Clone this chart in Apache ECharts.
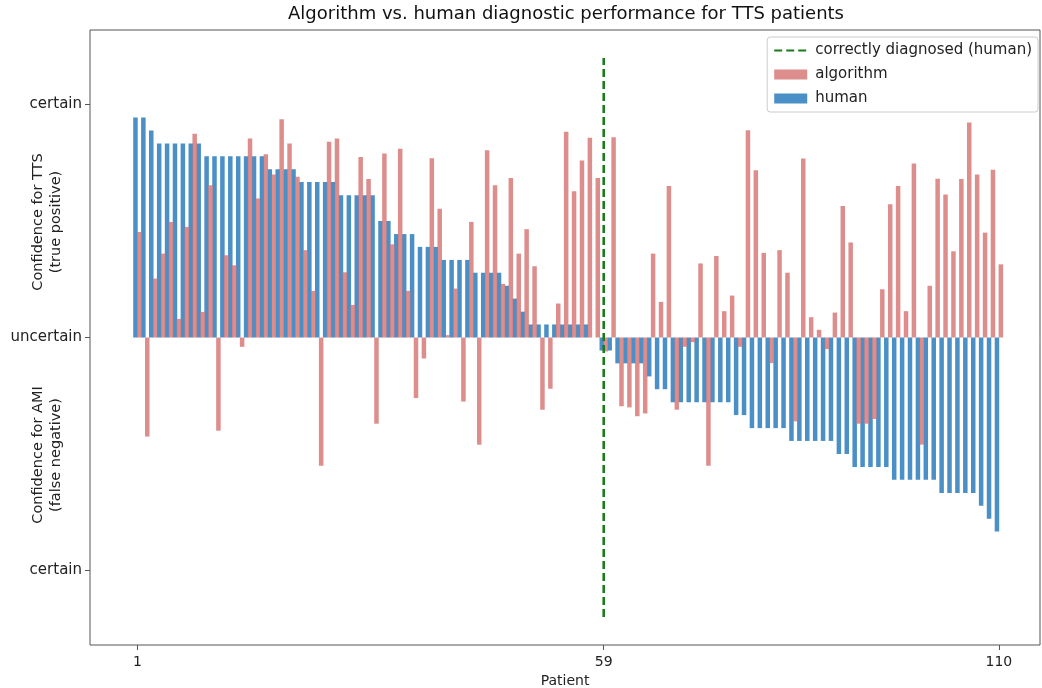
<!DOCTYPE html>
<html>
<head>
<meta charset="UTF-8">
<title>Algorithm vs. human diagnostic performance</title>
<script src="https://cdn.jsdelivr.net/npm/echarts@6/dist/echarts.min.js"></script>
<style>
  html, body { margin: 0; padding: 0; background: #fff; }
  #chart { width: 1042px; height: 688px; }
</style>
</head>
<body>
<div id="chart"></div>
<script>
  const patients = [
    1, 2, 3, 4, 5, 6, 7, 8, 9, 10, 11, 12, 13, 14, 15, 16, 17, 18, 19, 20,
    21, 22, 23, 24, 25, 26, 27, 28, 29, 30, 31, 32, 33, 34, 35, 36, 37, 38, 39, 40,
    41, 42, 43, 44, 45, 46, 47, 48, 49, 50, 51, 52, 53, 54, 55, 56, 57, 58, 59, 60,
    61, 62, 63, 64, 65, 66, 67, 68, 69, 70, 71, 72, 73, 74, 75, 76, 77, 78, 79, 80,
    81, 82, 83, 84, 85, 86, 87, 88, 89, 90, 91, 92, 93, 94, 95, 96, 97, 98, 99, 100,
    101, 102, 103, 104, 105, 106, 107, 108, 109, 110
  ];

  // human confidence (+ = TTS, - = AMI)
  const human = [
    0.944, 0.944, 0.889, 0.833, 0.833, 0.833, 0.833, 0.833, 0.833, 0.778,
    0.778, 0.778, 0.778, 0.778, 0.778, 0.778, 0.778, 0.722, 0.722, 0.722,
    0.722, 0.667, 0.667, 0.667, 0.667, 0.667, 0.611, 0.611, 0.611, 0.611,
    0.611, 0.5, 0.5, 0.444, 0.444, 0.444, 0.389, 0.389, 0.389, 0.333,
    0.333, 0.333, 0.333, 0.278, 0.278, 0.278, 0.278, 0.222, 0.167, 0.111,
    0.056, 0.056, 0.056, 0.056, 0.056, 0.056, 0.056, 0.056, 0.0, -0.056,
    -0.056, -0.111, -0.111, -0.111, -0.111, -0.167, -0.222, -0.222, -0.278, -0.278,
    -0.278, -0.278, -0.278, -0.278, -0.278, -0.278, -0.333, -0.333, -0.389, -0.389,
    -0.389, -0.389, -0.389, -0.444, -0.444, -0.444, -0.444, -0.444, -0.444, -0.5,
    -0.5, -0.556, -0.556, -0.556, -0.556, -0.556, -0.611, -0.611, -0.611, -0.611,
    -0.611, -0.611, -0.667, -0.667, -0.667, -0.667, -0.667, -0.722, -0.778, -0.833
  ];

  const algorithm = [
    0.453, -0.425, 0.253, 0.36, 0.496, 0.08, 0.475, 0.875, 0.11, 0.654,
    -0.40, 0.353, 0.31, -0.04, 0.854, 0.597, 0.787, 0.70, 0.937, 0.833,
    0.69, 0.375, 0.2, -0.55, 0.84, 0.854, 0.28, 0.14, 0.775, 0.68,
    -0.37, 0.79, 0.40, 0.81, 0.2, -0.26, -0.09, 0.77, 0.553, 0.01,
    0.21, -0.275, 0.496, -0.46, 0.804, 0.654, 0.23, 0.685, 0.36, 0.465,
    0.306, -0.31, -0.22, 0.146, 0.883, 0.628, 0.76, 0.858, 0.685, -0.06,
    0.86, -0.295, -0.30, -0.338, -0.326, 0.36, 0.153, 0.65, -0.31, -0.04,
    -0.02, 0.318, -0.55, 0.35, 0.113, 0.18, -0.04, 0.89, 0.718, 0.363,
    -0.11, 0.375, 0.278, -0.36, 0.768, 0.087, 0.033, -0.05, 0.107, 0.565,
    0.408, -0.37, -0.37, -0.35, 0.207, 0.572, 0.65, 0.113, 0.747, -0.46,
    0.222, 0.682, 0.614, 0.37, 0.68, 0.923, 0.70, 0.45, 0.72, 0.314
  ];

  const boundaryX = 60;            // dashed separator (first wrongly diagnosed slot)
  const boundarySpan = [-1.2, 1.2];
  const xTickPos = [1, 60, 110];
  const xTickText = ['1', '59', '110'];
  const yTicks = [-1, 0, 1];
  const yTickText = { '-1': 'certain', '0': 'uncertain', '1': 'certain' };

  const font = 'DejaVu Sans';
  const chart = echarts.init(document.getElementById('chart'));

  chart.setOption({
    animation: false,
    grid: {
      left: 90, right: 2, top: 30, bottom: 43,
      outerBoundsMode: 'none', containLabel: false,
      show: true, borderColor: '#555', borderWidth: 1
    },
    legend: {
      orient: 'vertical',
      right: 4,
      top: 37,
      itemWidth: 33,
      itemHeight: 10,
      itemGap: 9,
      padding: [6, 6, 6, 6],
      borderColor: '#ccc',
      borderWidth: 1,
      borderRadius: 3,
      textStyle: { fontFamily: font, fontSize: 15, color: '#222', padding: [0, 0, 0, 3] },
      data: [
        { name: 'correctly diagnosed (human)', itemStyle: { opacity: 0 } },
        { name: 'algorithm', icon: 'rect' },
        { name: 'human', icon: 'rect' }
      ]
    },
    xAxis: {
      type: 'value',
      min: -5,
      max: 115.2,
      splitLine: { show: false },
      axisLine: { show: false, onZero: false },
      axisTick: { show: true, customValues: xTickPos, length: 5, lineStyle: { color: '#555' } },
      axisLabel: {
        customValues: xTickPos,
        fontFamily: font, fontSize: 14, color: '#222', margin: 10,
        formatter: v => xTickText[xTickPos.indexOf(Math.round(v))]
      },
      name: 'Patient',
      nameLocation: 'middle',
      nameGap: 27,
      nameTextStyle: { fontFamily: font, fontSize: 14, color: '#222' }
    },
    yAxis: {
      type: 'value',
      min: -1.32,
      max: 1.32,
      splitLine: { show: false },
      axisLine: { show: false, onZero: false },
      axisTick: { show: true, customValues: yTicks, length: 5, lineStyle: { color: '#555' } },
      axisLabel: {
        customValues: yTicks,
        fontFamily: font, fontSize: 15, color: '#222', margin: 8,
        formatter: v => yTickText[String(Math.round(v))]
      }
    },
    graphic: [
      {
        type: 'text', x: 566, y: 14,
        style: { text: 'Algorithm vs. human diagnostic performance for TTS patients', fontFamily: font, fontSize: 18, fill: '#111', align: 'center', verticalAlign: 'middle' }
      },
      {
        type: 'text', x: 47, y: 222, rotation: Math.PI / 2,
        style: { text: 'Confidence for TTS\n(true positive)', fontFamily: font, fontSize: 14.5, fill: '#222', align: 'center', verticalAlign: 'middle', lineHeight: 18 }
      },
      {
        type: 'text', x: 47, y: 455, rotation: Math.PI / 2,
        style: { text: 'Confidence for AMI\n(false negative)', fontFamily: font, fontSize: 14.5, fill: '#222', align: 'center', verticalAlign: 'middle', lineHeight: 18 }
      }
    ],
    series: [
      {
        name: 'human',
        type: 'bar',
        data: patients.map((p, i) => [p, human[i]]),
        barWidth: 4.5,
        barGap: '-13%',
        itemStyle: { color: '#4a8fc6' }
      },
      {
        name: 'algorithm',
        type: 'bar',
        data: patients.map((p, i) => [p, algorithm[i]]),
        barWidth: 4.5,
        itemStyle: { color: '#d77474', opacity: 0.82 }
      },
      {
        name: 'correctly diagnosed (human)',
        type: 'line',
        data: boundarySpan.map(v => [boundaryX, v]),
        symbol: 'none',
        z: 5,
        silent: true,
        lineStyle: { color: '#1b7a1b', width: 2.6, type: [8, 4] },
        itemStyle: { color: '#1b7a1b' }
      }
    ]
  });
</script>
</body>
</html>
